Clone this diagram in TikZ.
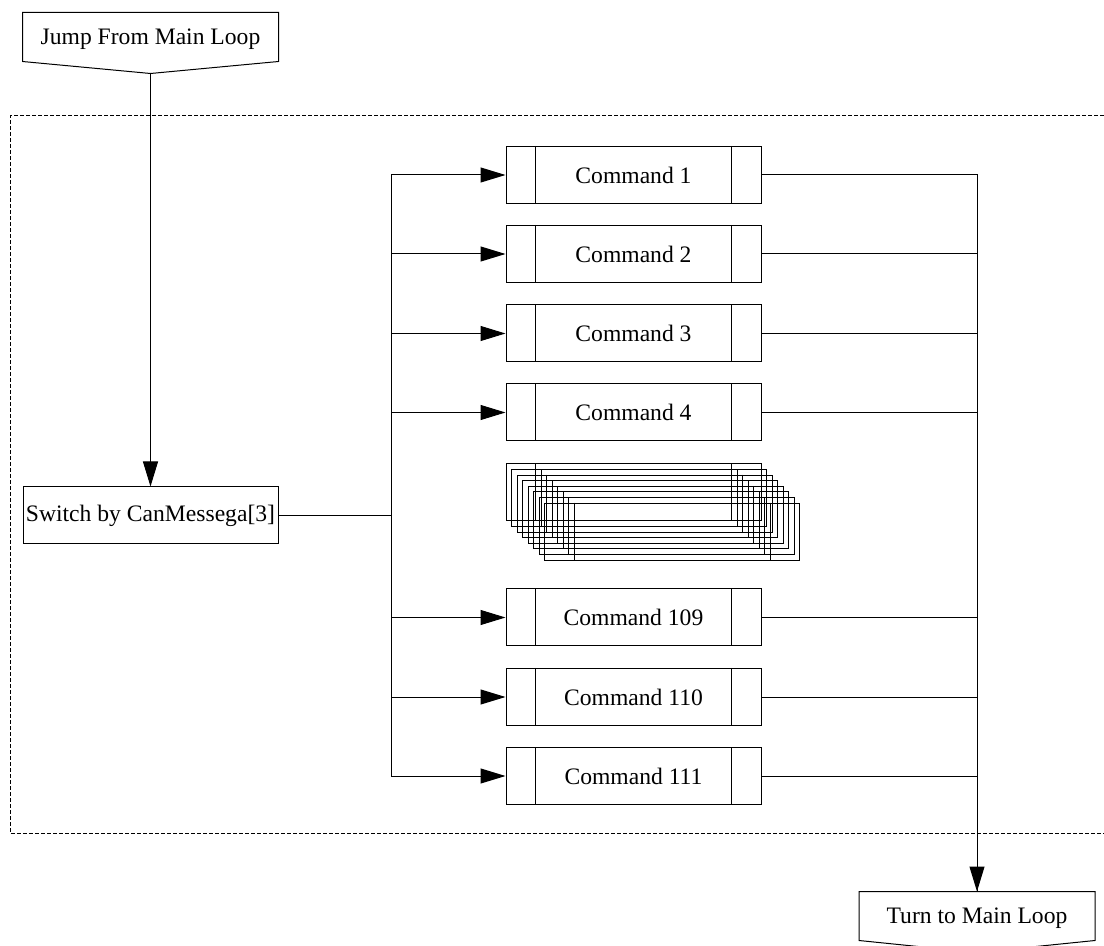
\documentclass[tikz,border=0pt]{standalone}
\usepackage{fontspec}
\setmainfont{Liberation Serif}
\usetikzlibrary{arrows.meta,calc}
\begin{document}
\begin{tikzpicture}[x=0.5pt,y=-0.5pt,
  font=\fontsize{11.8}{14}\selectfont,
  line width=0.5pt,
  arr/.style={-{Triangle[length=12.5pt,width=7.5pt]}},
  proc/.style={draw, minimum width=127.5pt, minimum height=28.5pt, inner sep=0pt},
  term/.style={minimum height=24pt, inner sep=0pt},
  termtext/.style={inner sep=0pt},
  group/.style={dash pattern=on 2pt off 1pt},
]
\useasboundingbox (0,0) rectangle (1104,946);
\clip (0,0) rectangle (1104,946);

% group frame
\draw[group] (1110,116) -- (10,116) -- (10,833) -- (1110,833);

% off-page connectors
\node[term, minimum width=127.5pt] (jump) at (150.5,37) {};
\node[termtext] (jumpt) at (150.5,39) {Jump From Main Loop};
\coordinate (jtip) at ($(jump.south)+(0,12)$);
\draw (jump.north west) -- (jump.north east) -- (jump.south east) -- (jtip) -- (jump.south west) -- cycle;

\node[term, minimum width=117.5pt] (turn) at (977,916) {};
\node[termtext] (turnt) at (977,918) {Turn to Main Loop};
\coordinate (ttip) at ($(turn.south)+(0,12)$);
\draw (turn.north west) -- (turn.north east) -- (turn.south east) -- (ttip) -- (turn.south west) -- cycle;

% switch
\node[proc] (switch) at (150.5,515.5) {Switch by CanMessega[3]};
\draw[arr] (jtip) -- (switch.north);

\coordinate (busL) at (391,515.5);
\draw (switch.east) -- (busL);

% commands
\foreach \n/\yy/\t in {c1/175/Command 1, c2/254/Command 2, c3/333.5/Command 3, c4/412.5/Command 4,
                       c109/617.5/Command 109, c110/697/Command 110, c111/776/Command 111} {
  \node[proc] (\n) at (633.5,\yy) {\t};
  \draw ($(\n.north west)+(30,0)$) -- ($(\n.south west)+(30,0)$);
  \draw ($(\n.north east)+(-30,0)$) -- ($(\n.south east)+(-30,0)$);
  \draw[arr] (busL) |- (\n.west);
  \draw (\n.east) -| (turn.north);
}
\draw[arr] (c1.east) -| (turn.north);

% stacked boxes (elided commands)
\foreach \i in {0,...,7} {
  \node[proc] (st\i) at ({633.5+5.5*\i},{492.5+5.6*\i}) {};
  \draw ($(st\i.north west)+(30,0)$) -- ($(st\i.south west)+(30,0)$);
  \draw ($(st\i.north east)+(-30,0)$) -- ($(st\i.south east)+(-30,0)$);
}
\end{tikzpicture}
\end{document}
